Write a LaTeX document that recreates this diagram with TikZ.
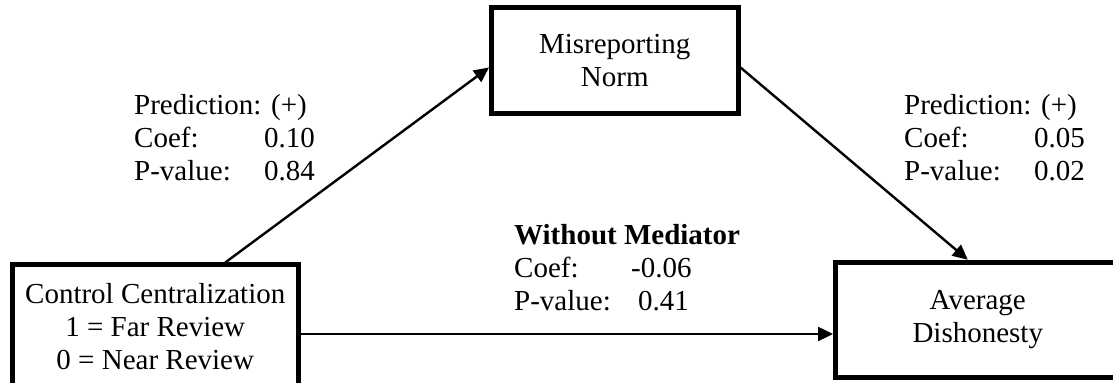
\documentclass[tikz,border=0pt]{standalone}
\usepackage{fontspec}
\setmainfont{Liberation Serif}
\usepackage{tikz}
\usetikzlibrary{arrows.meta, calc}

\begin{document}
\begin{tikzpicture}[x=0.5pt, y=-0.5pt, line width=1.2pt,
        box/.style={draw, line width=2.5pt, rectangle, align=center, inner sep=0pt,
            font=\fontsize{14.5}{16.5}\selectfont},
        arr/.style={-{Triangle[length=7.5pt, width=7pt]}},
        lbl/.style={anchor=base west, inner sep=0pt, font=\fontsize{14.5}{16.5}\selectfont}]
        \useasboundingbox (0,0) rectangle (1113,383);

        % mediator
        \node[box, minimum width=123.25pt, minimum height=53pt] (norm) at (614.75,60.5) {Misreporting\\Norm};
        % treatment and outcome
        \node[box, minimum width=142.75pt, minimum height=61.5pt] (ctrl) at (155.25,326.5) {Control Centralization\\1 = Far Review\\0 = Near Review};
        \node[box, minimum width=142.25pt, minimum height=57.75pt] (dish) at (977.75,320) {Average\\Dishonesty};

        % paths
        \draw[arr] ($(ctrl.north)+(70,0)$) -- ($(norm.west)+(0,7)$);
        \draw[arr] ($(norm.east)+(0,7)$) -- ($(dish.north)+(-10,0)$);
        \draw[arr] ($(ctrl.east)+(0,7.5)$) coordinate (s) -- (s -| dish.west);

        % estimates
        \node[lbl] (left) at (133,115) {\begin{tabular}[t]{@{}l@{}}
            Prediction: (+)\\
            \makebox[65pt][l]{Coef:}0.10\\
            \makebox[65pt][l]{P-value:}0.84
        \end{tabular}};
        \node[lbl] (right) at (903,115) {\begin{tabular}[t]{@{}l@{}}
            Prediction: (+)\\
            \makebox[65pt][l]{Coef:}0.05\\
            \makebox[65pt][l]{P-value:}0.02
        \end{tabular}};
        \node[lbl] (direct) at (513,245) {\begin{tabular}[t]{@{}l@{}}
            \textbf{Without Mediator}\\
            \makebox[58.5pt][l]{Coef:}-0.06\\
            \makebox[62pt][l]{P-value:}0.41
        \end{tabular}};
    \end{tikzpicture}
\end{document}
